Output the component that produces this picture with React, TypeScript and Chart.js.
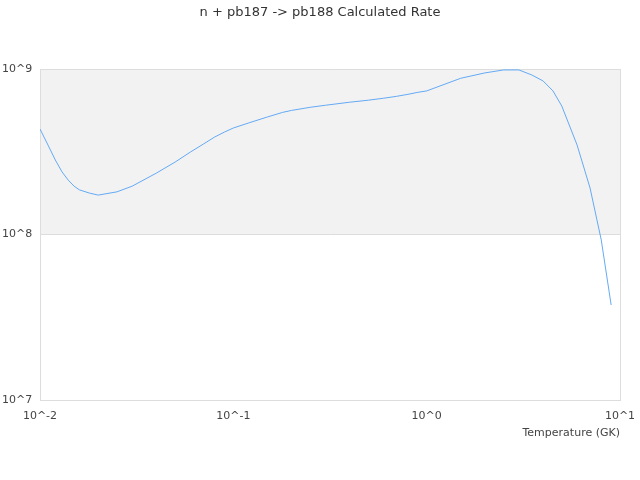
import React, { useEffect, useRef } from "react";
import { Chart, registerables } from "chart.js";

Chart.register(...registerables);

const chartTitle = "n + pb187 -> pb188 Calculated Rate";
const xAxisTitle = "Temperature (GK)";

const temperatures = [
  0.01, 0.011, 0.012, 0.013, 0.014, 0.015, 0.016, 0.018, 0.02, 0.025, 0.03,
  0.04, 0.05, 0.06, 0.07, 0.08, 0.09, 0.1, 0.12, 0.15, 0.18, 0.2, 0.25, 0.3,
  0.4, 0.5, 0.6, 0.7, 0.8, 0.9, 1.0, 1.5, 2, 2.5, 3, 3.5, 4, 4.5, 5, 6, 7, 8, 9,
];

const rates = [
  4.34e8, 3.47e8, 2.82e8, 2.39e8, 2.13e8, 1.96e8, 1.86e8, 1.78e8, 1.73e8,
  1.81e8, 1.96e8, 2.35e8, 2.74e8, 3.15e8, 3.52e8, 3.88e8, 4.16e8, 4.4e8,
  4.72e8, 5.13e8, 5.47e8, 5.62e8, 5.87e8, 6.04e8, 6.3e8, 6.48e8, 6.66e8,
  6.84e8, 7.03e8, 7.23e8, 7.37e8, 8.79e8, 9.47e8, 9.87e8, 9.87e8, 9.2e8,
  8.47e8, 7.37e8, 5.97e8, 3.47e8, 1.91e8, 9.27e7, 3.75e7,
];

const xTicks = [0.01, 0.1, 1, 10];
const xTickLabels = ["10^-2", "10^-1", "10^0", "10^1"];
const yTicks = [1e7, 1e8, 1e9];
const yTickLabels = ["10^7", "10^8", "10^9"];
const bandRange = [1e8, 1e9];

const FONT = "'DejaVu Sans', sans-serif";

export default function App() {
  const ref = useRef<HTMLCanvasElement | null>(null);

  useEffect(() => {
    document.body.style.margin = "0";
    const canvas = ref.current;
    if (!canvas) return;

    const bandPlugin = {
      id: "band",
      beforeDraw(chart: any) {
        const { ctx, chartArea, scales } = chart;
        const y1 = scales.y.getPixelForValue(bandRange[1]);
        const y0 = scales.y.getPixelForValue(bandRange[0]);
        ctx.save();
        ctx.fillStyle = "#f2f2f2";
        ctx.fillRect(chartArea.left, y1, chartArea.right - chartArea.left, y0 - y1);
        ctx.restore();
      },
    };

    const chart = new Chart(canvas, {
      type: "line",
      data: {
        datasets: [
          {
            data: temperatures.map((t, i) => ({ x: t, y: rates[i] })),
            borderColor: "rgb(100,170,245)",
            borderWidth: 1,
            pointRadius: 0,
            tension: 0,
            fill: false,
          },
        ],
      },
      options: {
        animation: false,
        responsive: false,
        devicePixelRatio: 1,
        layout: { padding: { left: 2, right: 2, top: 0, bottom: 40 } },
        plugins: {
          legend: { display: false },
          tooltip: { enabled: false },
          title: {
            display: true,
            text: chartTitle,
            color: "#333",
            font: { family: FONT, size: 13, weight: "normal" },
            padding: { top: 5, bottom: 48.4 },
          },
        },
        scales: {
          x: {
            type: "logarithmic",
            min: 0.01,
            max: 10,
            afterBuildTicks: (scale: any) => {
              scale.ticks = xTicks.map((v) => ({ value: v }));
            },
            afterFit: (scale: any) => {
              scale.height = 40;
              scale.paddingLeft = 0;
              scale.paddingRight = 0;
            },
            ticks: {
              autoSkip: false,
              maxRotation: 0,
              padding: 10,
              color: "#444",
              font: { family: FONT, size: 11 },
              callback: (v: any) => {
                const i = xTicks.indexOf(Number(v));
                return i >= 0 ? xTickLabels[i] : "";
              },
            },
            grid: {
              drawTicks: false,
              color: (c: any) =>
                c.tick && (c.tick.value === 10 || c.tick.value === 0.01) ? "#dddddd" : "rgba(0,0,0,0)",
            },
            border: { display: true, color: "#dddddd" },
            title: {
              display: true,
              text: xAxisTitle,
              align: "end",
              color: "#444",
              font: { family: FONT, size: 11 },
              padding: { top: 0, bottom: 0 },
            },
          },
          y: {
            type: "logarithmic",
            min: 1e7,
            max: 1e9,
            afterBuildTicks: (scale: any) => {
              scale.ticks = yTicks.map((v) => ({ value: v }));
            },
            afterFit: (scale: any) => {
              scale.width = 38;
              scale.paddingTop = 0;
              scale.paddingBottom = 0;
            },
            ticks: {
              autoSkip: false,
              crossAlign: "far",
              padding: 4,
              color: "#444",
              font: { family: FONT, size: 11 },
              callback: (v: any) => {
                const i = yTicks.indexOf(Number(v));
                return i >= 0 ? yTickLabels[i] : "";
              },
            },
            grid: { drawTicks: false, color: "#dddddd" },
            border: { display: true, color: "#dddddd" },
          },
          spacer: {
            type: "linear",
            position: "right",
            display: true,
            afterFit: (scale: any) => {
              scale.width = 18;
              scale.paddingTop = 0;
              scale.paddingBottom = 0;
            },
            ticks: { display: false },
            grid: { display: false, drawTicks: false },
            border: { display: false },
          },
        },
      },
      plugins: [bandPlugin],
    } as any);

    return () => chart.destroy();
  }, []);

  return <canvas ref={ref} width={640} height={480} style={{ display: "block" }} />;
}
